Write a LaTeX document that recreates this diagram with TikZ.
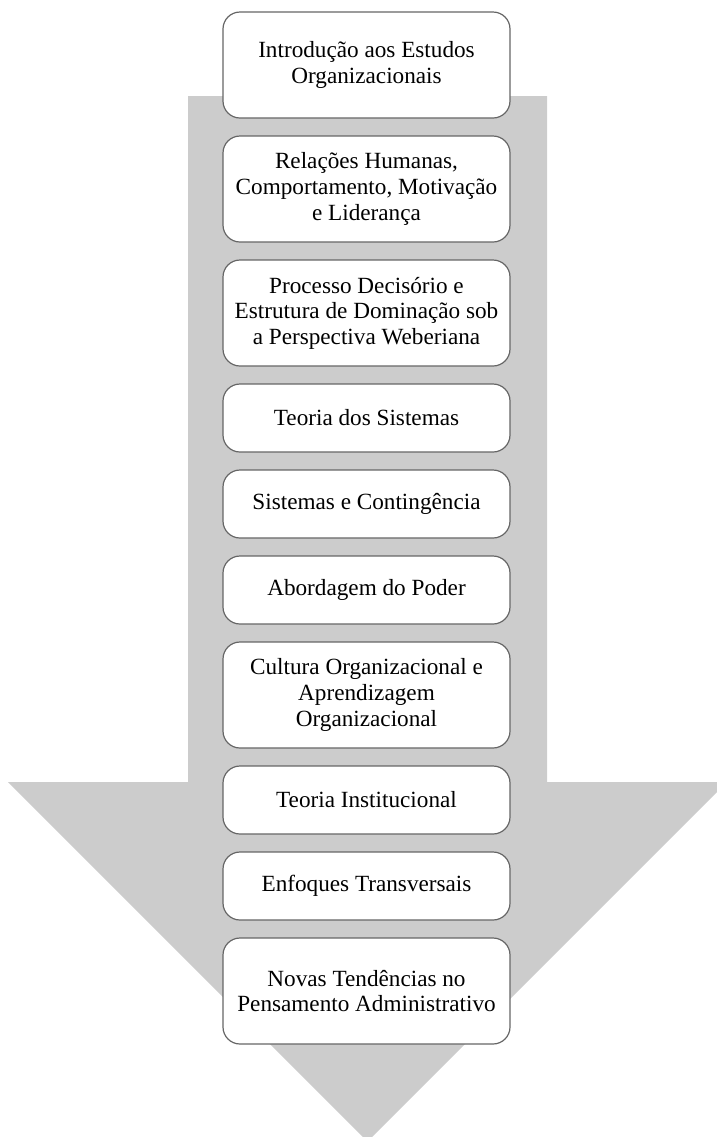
\documentclass[tikz,border=0pt]{standalone}
\usepackage{fontspec}
\setmainfont{Liberation Serif}
\usepackage{tikz}
\usetikzlibrary{positioning}

\begin{document}
\begin{tikzpicture}[x=0.5pt,y=-0.5pt]
\tikzset{
  topic/.style={draw=black!60, line width=0.6pt, fill=white, rounded corners=8.5pt,
    minimum width=143.5pt, inner sep=0pt, align=center,
    font=\fontsize{11.6}{12.8}\selectfont},
  tall/.style={topic, minimum height=53pt},
  short/.style={topic, minimum height=34pt}
}
\clip (0,0) rectangle (717,1137);

\coordinate (S1) at (188,96);
\coordinate (S2) at (547,96);
\coordinate (S3) at (547,782);
\coordinate (H1) at (727,782);
\coordinate (T) at (367.5,1141.5);
\coordinate (H2) at (8,782);
\coordinate (S4) at (188,782);

\fill[black!20] (S1) -- (S2) -- (S3) -- (H1) -- (T) -- (H2) -- (S4) -- cycle;

\node[tall] (intro) at (366.5,65) {Introdução aos Estudos\\Organizacionais};
\node[tall] (relacoes) at (366.5,189) {Relações Humanas,\\Comportamento, Motivação\\e Liderança};
\node[tall] (processo) at (366.5,313) {Processo Decisório e\\Estrutura de Dominação sob\\a Perspectiva Weberiana};
\node[short] (sistemas) at (366.5,418) {Teoria dos Sistemas};
\node[short] (contingencia) at (366.5,504) {Sistemas e Contingência};
\node[short] (poder) at (366.5,590) {Abordagem do Poder};
\node[tall] (cultura) at (366.5,695) {Cultura Organizacional e\\Aprendizagem\\Organizacional};
\node[short] (institucional) at (366.5,800) {Teoria Institucional};
\node[short] (transversais) at (366.5,886) {Enfoques Transversais};
\node[tall] (tendencias) at (366.5,991) {Novas Tendências no\\Pensamento Administrativo};
\end{tikzpicture}
\end{document}
